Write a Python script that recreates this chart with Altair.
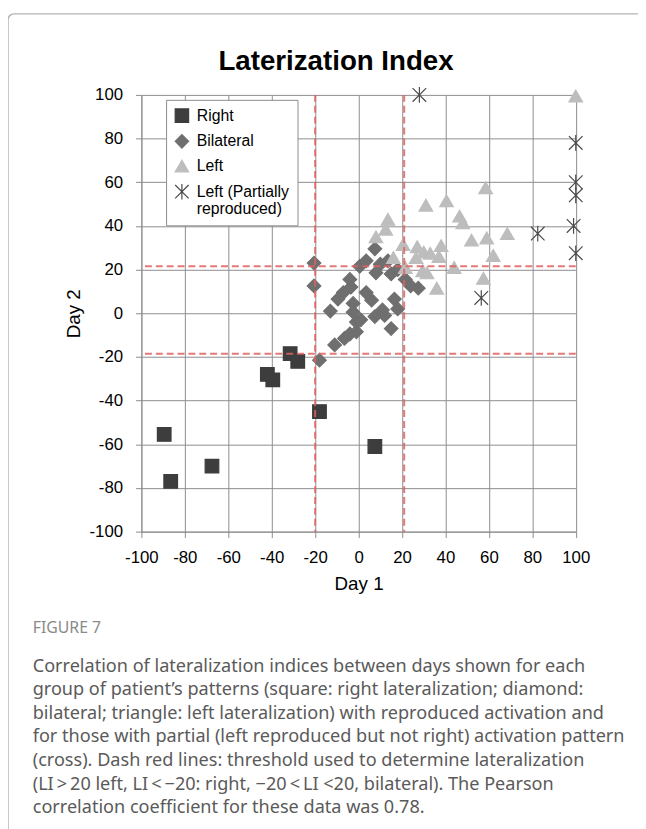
import altair as alt
import pandas as pd

# ---------------- data ----------------
groups = ["Right", "Bilateral", "Left", "Left (Partially reproduced)"]

right_x = [-89.5, -86.5, -67.5, -42, -39.5, -31.5, -28, -18, 7.5]
right_y = [-55.5, -77, -70, -28, -30.5, -18.5, -22, -45, -61]

bilateral_x = [-20.5, -20.5, -18, -13, -11, -6.5, -4, -1, -1, -2.5, -2.5, -9.5, -7, -3.5, -4,
               0.5, 3.5, 7.5, 10, 8, 13.5, 15, 18, 21.5, 24, 27.5, 3.5, 6, 16.5, 18, 7.5, 12, 15, 1, 11]
bilateral_y = [23, 12.5, -21.5, 1, -14.5, -11.5, -9.5, -8.5, -4, 0.5, 4.5, 6.5, 9.5, 12, 15.5,
               21.5, 24, 29.5, 22.5, 18.5, 24, 18, 20, 15.5, 12.5, 11.5, 9.5, 6, 6.5, 2, -1.5, -1, -7, -3, 1.5]

left_x = [100, 58.5, 40.5, 31, 46.5, 48, 13.5, 12.5, 8, 68.5, 59, 52, 20.5, 27, 38, 30, 33, 37,
          62, 16, 26.5, 21.5, 44, 29.5, 31.5, 57.5, 36]
left_y = [99.5, 57.5, 51.5, 49.5, 44.5, 41.5, 43, 38.5, 35, 36.5, 34.5, 33.5, 31.5, 30.5, 31, 28,
          27.5, 26, 26.5, 25.5, 25.5, 21, 21, 19.5, 18.5, 16, 11.5]

partial_x = [28, 100, 100, 100, 99, 100, 82.5, 56.5]
partial_y = [100, 78, 60, 54, 40, 27.5, 36.5, 7]

threshold_x = [-20, 21]
threshold_y = [21.5, -18.5]

axis_ticks = [-100, -80, -60, -40, -20, 0, 20, 40, 60, 80, 100]

chart_title = "Laterization Index"
caption_head = "FIGURE 7"
caption_lines = [
    "Correlation of lateralization indices between days shown for each",
    "group of patient\u2019s patterns (square: right lateralization; diamond:",
    "bilateral; triangle: left lateralization) with reproduced activation and",
    "for those with partial (left reproduced but not right) activation pattern",
    "(cross). Dash red lines: threshold used to determine lateralization",
    "(LI\u2009>\u200920 left, LI\u2009<\u2009\u221220: right, \u221220\u2009<\u2009LI <20, bilateral). The Pearson",
    "correlation coefficient for these data was 0.78.",
]

# ---------------- tables ----------------
rows = []
for name, xs_, ys_ in [(groups[0], right_x, right_y), (groups[1], bilateral_x, bilateral_y),
                       (groups[2], left_x, left_y), (groups[3], partial_x, partial_y)]:
    for a, b in zip(xs_, ys_):
        rows.append({"Day 1": a, "Day 2": b, "group": name})
df = pd.DataFrame(rows)

vdf = pd.DataFrame({"t": threshold_x})
hdf = pd.DataFrame({"t": threshold_y})
one = pd.DataFrame({"a": [0]})

fills = ["#3d3d3d", "#6f6f6f", "#bdbdbd", "transparent"]
strokes = ["#3d3d3d", "#6f6f6f", "#bdbdbd", "#4a4a4a"]
shapes = ["square", "diamond", "triangle-up", "M-1,-1L1,1M-1,1L1,-1M0,-1.15L0,1.15"]

FONT = "Arial, Liberation Sans, sans-serif"
GRID = "#8c8c8c"
HYPHEN = "datum.value < 0 ? '-' + abs(datum.value) : '' + datum.value"

xs = alt.Scale(domain=[-100, 100], nice=False, zero=False)
ys = alt.Scale(domain=[-100, 100], nice=False, zero=False)

legend = alt.Legend(
    title=None, orient="none", legendX=25, legendY=5,
    fillColor="white", strokeColor="#8c8c8c", padding=8,
    labelFont=FONT, labelFontSize=16, labelColor="black", labelLimit=300,
    symbolSize=185, symbolStrokeWidth=1.2, symbolOpacity=1, rowPadding=6, labelOffset=7,
    labelExpr="datum.label == 'Left (Partially reproduced)' ? ['Left (Partially', 'reproduced)'] : datum.label",
)

frame = alt.Chart(one).mark_rect(fillOpacity=0, stroke="#b5b5b5", strokeWidth=1.5, cornerRadius=6).encode(
    x=alt.value(-135), x2=alt.value(900), y=alt.value(-82), y2=alt.value(900)
)

points = alt.Chart(df).mark_point(filled=True, opacity=1, strokeWidth=1.2, size=190).encode(
    x=alt.X("Day 1:Q", scale=xs, axis=alt.Axis(values=axis_ticks, title="Day 1", labelPadding=12,
                                                titlePadding=10, labelExpr=HYPHEN, labelOverlap=False,
                                                labelFlush=False)),
    y=alt.Y("Day 2:Q", scale=ys, axis=alt.Axis(values=axis_ticks, title="Day 2", labelPadding=13,
                                                titlePadding=6, labelExpr=HYPHEN, labelOverlap=False,
                                                labelFlush=False)),
    fill=alt.Fill("group:N", scale=alt.Scale(domain=groups, range=fills), legend=legend),
    stroke=alt.Stroke("group:N", scale=alt.Scale(domain=groups, range=strokes), legend=legend),
    shape=alt.Shape("group:N", scale=alt.Scale(domain=groups, range=shapes), legend=legend),
)

vrules = alt.Chart(vdf).mark_rule(color="#e06060", strokeWidth=2, strokeDash=[7, 4], opacity=0.85).encode(
    x=alt.X("t:Q", scale=xs)
)
hrules = alt.Chart(hdf).mark_rule(color="#e06060", strokeWidth=2, strokeDash=[7, 4], opacity=0.85).encode(
    y=alt.Y("t:Q", scale=ys)
)

title = alt.Chart(one).mark_text(align="center", baseline="alphabetic", font=FONT, fontSize=28,
                                 fontWeight="bold", color="black").encode(
    x=alt.value(197), y=alt.value(-25), text=alt.value(chart_title)
)
head = alt.Chart(one).mark_text(align="left", baseline="middle", font="Noto Sans", fontSize=16,
                                color="#8a8a8a").encode(
    x=alt.value(-110), y=alt.value(540), text=alt.value(caption_head)
)
caption = alt.Chart(one).mark_text(align="left", baseline="top", font="Noto Sans", fontSize=18.3,
                                   color="#5a5a5a", lineHeight=23.8).encode(
    x=alt.value(-110), y=alt.value(570), text=alt.value(caption_lines)
)

chart = alt.layer(frame, points, vrules, hrules, title, head, caption).properties(
    width=439.6, height=442,
    padding={"left": 135, "top": 83, "right": 63, "bottom": 296},
    autosize=alt.AutoSizeParams(type="none"),
).configure_view(strokeWidth=0).configure_axis(
    grid=True, gridColor=GRID, gridOpacity=1, gridWidth=1,
    domainColor=GRID, tickColor=GRID, tickSize=6, domainWidth=1, tickWidth=1,
    labelFont=FONT, labelFontSize=17, labelColor="black",
    titleFont=FONT, titleFontSize=19, titleFontWeight="normal", titleColor="black",
)

chart.save("out.html", embed_options={"renderer": "svg", "actions": False})
